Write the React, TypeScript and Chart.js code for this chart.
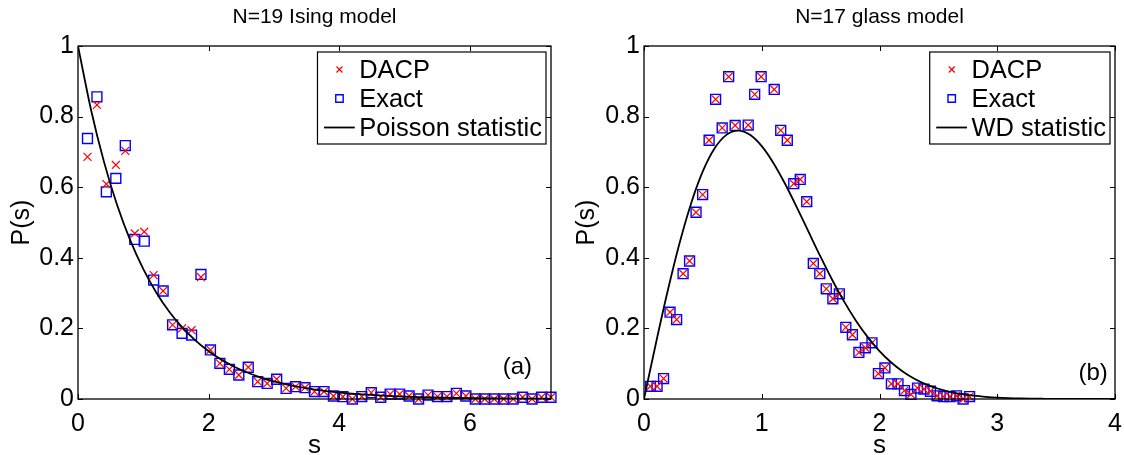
import React, { useEffect, useRef } from "react";
import { Chart, registerables } from "chart.js";
import { drawPoint } from "chart.js/helpers";

Chart.register(...registerables);

const FONT = '"Liberation Sans", Arial, Helvetica, sans-serif';

// ---------- Left panel: N=19 Ising model ----------
const isingTitle = "N=19 Ising model";
const isingS = [
  0.145, 0.29, 0.434, 0.579, 0.724, 0.869, 1.014, 1.158, 1.303, 1.448,
  1.593, 1.738, 1.882, 2.027, 2.172, 2.317, 2.462, 2.606, 2.751, 2.896,
  3.041, 3.186, 3.33, 3.475, 3.62, 3.765, 3.91, 4.054, 4.199, 4.344,
  4.489, 4.634, 4.778, 4.923, 5.068, 5.213, 5.358, 5.502, 5.647, 5.792,
  5.937, 6.082, 6.226, 6.371, 6.516, 6.661, 6.806, 6.95, 7.095, 7.24,
];
const isingDACP = [
  0.686, 0.833, 0.609, 0.663, 0.703, 0.469, 0.474, 0.351, 0.306, 0.21,
  0.2, 0.195, 0.345, 0.139, 0.101, 0.084, 0.068, 0.09, 0.049, 0.044,
  0.056, 0.03, 0.035, 0.032, 0.021, 0.021, 0.0085, 0.0066, 0.0, 0.007,
  0.018, 0.005, 0.014, 0.014, 0.0085, 0.0, 0.011, 0.007, 0.007, 0.016,
  0.0085, 0.0, 0.0, 0.0, 0.0, 0.0, 0.005, 0.0, 0.005, 0.005,
];
const isingExact = [
  0.738, 0.856, 0.587, 0.625, 0.718, 0.452, 0.447, 0.337, 0.306, 0.21,
  0.186, 0.181, 0.353, 0.139, 0.101, 0.084, 0.068, 0.09, 0.049, 0.044,
  0.056, 0.03, 0.035, 0.032, 0.021, 0.021, 0.0085, 0.0066, 0.0, 0.007,
  0.018, 0.005, 0.014, 0.014, 0.0085, 0.0, 0.011, 0.007, 0.007, 0.016,
  0.0085, 0.0, 0.0, 0.0, 0.0, 0.0, 0.005, 0.0, 0.005, 0.005,
];
const poissonS = [
  0, 0.2, 0.4, 0.6, 0.8, 1.0, 1.2, 1.4, 1.6, 1.8, 2.0, 2.2, 2.4, 2.6, 2.8,
  3.0, 3.2, 3.4, 3.6, 3.8, 4.0, 4.4, 4.8, 5.2, 5.6, 6.0, 6.4, 6.8, 7.24,
];
const poissonP = [
  1, 0.8187, 0.6703, 0.5488, 0.4493, 0.3679, 0.3012, 0.2466, 0.2019, 0.1653,
  0.1353, 0.1108, 0.0907, 0.0743, 0.0608, 0.0498, 0.0408, 0.0334, 0.0273,
  0.0224, 0.0183, 0.0123, 0.0082, 0.0055, 0.0037, 0.0025, 0.0017, 0.0011, 0.0007,
];
const isingXTicks = [0, 2, 4, 6];

// ---------- Right panel: N=17 glass model ----------
const glassTitle = "N=17 glass model";
const glassS = [
  0.055, 0.111, 0.166, 0.221, 0.277, 0.332, 0.387, 0.442, 0.498, 0.553,
  0.608, 0.664, 0.719, 0.774, 0.885, 0.94, 0.995, 1.106, 1.161, 1.217,
  1.272, 1.327, 1.382, 1.438, 1.493, 1.548, 1.604, 1.659, 1.714, 1.77,
  1.825, 1.88, 1.936, 1.991, 2.046, 2.101, 2.157, 2.212, 2.267, 2.323,
  2.378, 2.433, 2.489, 2.544, 2.599, 2.654, 2.71, 2.765,
];
const glassDACP = [
  0.036, 0.036, 0.058, 0.246, 0.225, 0.355, 0.391, 0.529, 0.579, 0.733,
  0.849, 0.768, 0.913, 0.775, 0.776, 0.863, 0.913, 0.877, 0.761, 0.733,
  0.61, 0.622, 0.559, 0.384, 0.355, 0.312, 0.284, 0.298, 0.203, 0.182,
  0.132, 0.145, 0.159, 0.072, 0.088, 0.043, 0.043, 0.024, 0.013, 0.031,
  0.028, 0.022, 0.009, 0.007, 0.007, 0.009, 0.0, 0.007,
];
const glassExact = [
  0.036, 0.036, 0.058, 0.246, 0.225, 0.355, 0.391, 0.529, 0.579, 0.733,
  0.849, 0.768, 0.913, 0.775, 0.776, 0.863, 0.913, 0.877, 0.761, 0.733,
  0.61, 0.622, 0.559, 0.384, 0.355, 0.312, 0.284, 0.298, 0.203, 0.182,
  0.132, 0.145, 0.159, 0.072, 0.088, 0.043, 0.043, 0.024, 0.013, 0.031,
  0.028, 0.022, 0.009, 0.007, 0.007, 0.009, 0.0, 0.007,
];
const wdS = [
  0, 0.1, 0.2, 0.3, 0.4, 0.5, 0.6, 0.7, 0.8, 0.9, 1.0, 1.1, 1.2, 1.3, 1.4,
  1.5, 1.6, 1.7, 1.8, 1.9, 2.0, 2.1, 2.2, 2.3, 2.4, 2.5, 2.6, 2.7, 2.8, 2.9,
  3.0, 3.2, 3.4, 3.6, 3.8, 4.0,
];
const wdP = [
  0, 0.1559, 0.3044, 0.4391, 0.5541, 0.6454, 0.7103, 0.7483, 0.7601, 0.7483,
  0.7162, 0.668, 0.6083, 0.5415, 0.4718, 0.4025, 0.3365, 0.2759, 0.2219,
  0.1752, 0.1358, 0.1033, 0.0772, 0.0567, 0.0409, 0.029, 0.0202, 0.0138,
  0.0093, 0.0062, 0.004, 0.0016, 0.0006, 0.0002, 0.0001, 0.0,
];
const glassXTicks = [0, 1, 2, 3, 4];

const yTicks = [0, 0.2, 0.4, 0.6, 0.8, 1];

// ---------- plugins ----------
const framePlugin = {
  id: "frame",
  afterDatasetsDraw(chart: any) {
    const { ctx, chartArea: a, scales } = chart;
    ctx.save();
    ctx.strokeStyle = "#000";
    ctx.lineWidth = 1.3;
    ctx.strokeRect(a.left, a.top, a.right - a.left, a.bottom - a.top);
    const L = 5;
    ctx.lineWidth = 1;
    ctx.beginPath();
    for (const t of scales.x.ticks) {
      const px = Math.round(scales.x.getPixelForValue(t.value)) + 0.5;
      ctx.moveTo(px, a.bottom);
      ctx.lineTo(px, a.bottom - L);
      ctx.moveTo(px, a.top);
      ctx.lineTo(px, a.top + L);
    }
    for (const t of scales.y.ticks) {
      const py = Math.round(scales.y.getPixelForValue(t.value)) + 0.5;
      ctx.moveTo(a.left, py);
      ctx.lineTo(a.left + L, py);
      ctx.moveTo(a.right, py);
      ctx.lineTo(a.right - L, py);
    }
    ctx.stroke();
    ctx.restore();
  },
};

const boxLegendPlugin = {
  id: "boxLegend",
  afterDraw(chart: any, _args: any, opts: any) {
    const { ctx, chartArea: a } = chart;
    const ds = chart.data.datasets;
    const order: number[] = opts.order;
    ctx.save();
    ctx.font = `${opts.fontSize}px ${FONT}`;
    const widths = order.map((i) => ctx.measureText(ds[i].label).width);
    const w = opts.textOffset + Math.max(...widths) + opts.padRight;
    const h = opts.height;
    const x0 = a.right - opts.marginRight - w;
    const y0 = a.top + opts.marginTop;
    ctx.fillStyle = "#fff";
    ctx.fillRect(x0, y0, w, h);
    ctx.strokeStyle = "#000";
    ctx.lineWidth = 1.2;
    ctx.strokeRect(x0, y0, w, h);
    order.forEach((i, row) => {
      const d = ds[i];
      const cy = y0 + opts.firstRow + row * opts.rowGap;
      if (d.showLine) {
        ctx.strokeStyle = d.borderColor;
        ctx.lineWidth = d.borderWidth;
        ctx.beginPath();
        ctx.moveTo(x0 + opts.lineStart, cy);
        ctx.lineTo(x0 + opts.lineEnd, cy);
        ctx.stroke();
      } else {
        ctx.strokeStyle = d.borderColor;
        ctx.fillStyle = "rgba(0,0,0,0)";
        ctx.lineWidth = d.borderWidth;
        drawPoint(ctx, {
          pointStyle: d.pointStyle,
          radius: d.pointRadius * 0.75,
          borderWidth: d.borderWidth,
          rotation: 0,
        } as any, x0 + opts.markerX, cy);
      }
      ctx.fillStyle = "#000";
      ctx.textAlign = "left";
      ctx.textBaseline = "middle";
      ctx.font = `${opts.fontSize}px ${FONT}`;
      ctx.fillText(d.label, x0 + opts.textOffset, cy + 1);
    });
    ctx.restore();
  },
};

const panelLabelPlugin = {
  id: "panelLabel",
  afterDraw(chart: any, _args: any, opts: any) {
    const { ctx, scales } = chart;
    ctx.save();
    ctx.fillStyle = "#000";
    ctx.font = `${opts.fontSize}px ${FONT}`;
    ctx.textAlign = "left";
    ctx.textBaseline = "middle";
    ctx.fillText(opts.text, scales.x.getPixelForValue(opts.x), scales.y.getPixelForValue(opts.y));
    ctx.restore();
  },
};

type PanelProps = {
  title: string;
  curveLabel: string;
  xs: number[];
  dacp: number[];
  exact: number[];
  curveX: number[];
  curveY: number[];
  xMax: number;
  xTicks: number[];
  yAxisWidth: number;
  rightPad: number;
  yTitlePad: number;
  label: string;
  labelX: number;
  labelY: number;
};

function Panel(p: PanelProps) {
  const ref = useRef<HTMLCanvasElement | null>(null);
  useEffect(() => {
    if (!ref.current) return;
    const tickFont = { family: FONT, size: 25 };
    const chart = new Chart(ref.current, {
      type: "scatter",
      data: {
        datasets: [
          {
            label: "DACP",
            data: p.xs.map((x, i) => ({ x, y: p.dacp[i] })),
            showLine: false,
            pointStyle: "crossRot",
            pointRadius: 5.6,
            borderColor: "#ff0000",
            backgroundColor: "rgba(0,0,0,0)",
            borderWidth: 1.2,
            order: 1,
            clip: false,
          } as any,
          {
            label: "Exact",
            data: p.xs.map((x, i) => ({ x, y: p.exact[i] })),
            showLine: false,
            pointStyle: "rect",
            pointRadius: 7,
            borderColor: "#0000ff",
            backgroundColor: "rgba(0,0,0,0)",
            borderWidth: 1.4,
            order: 2,
            clip: false,
          } as any,
          {
            label: p.curveLabel,
            data: p.curveX.map((x, i) => ({ x, y: p.curveY[i] })),
            showLine: true,
            pointRadius: 0,
            borderColor: "#000000",
            backgroundColor: "#000000",
            borderWidth: 1.8,
            cubicInterpolationMode: "monotone",
            order: 0,
          } as any,
        ],
      },
      options: {
        responsive: false,
        maintainAspectRatio: false,
        animation: false,
        events: [],
        layout: { padding: { left: 0, right: p.rightPad, top: 0, bottom: 0 } },
        scales: {
          x: {
            type: "linear",
            min: 0,
            max: p.xMax,
            grid: { display: false, drawTicks: false },
            border: { display: false },
            ticks: {
              font: tickFont,
              color: "#000",
              padding: 10,
              maxRotation: 0,
              autoSkip: false,
              includeBounds: false,
              callback: (v: any) => String(v),
            },
            afterBuildTicks: (s: any) => {
              s.ticks = p.xTicks.map((v) => ({ value: v }));
            },
            afterFit: (s: any) => {
              s.height = 56;
              s.paddingLeft = 0;
              s.paddingRight = 0;
            },
            title: {
              display: true,
              text: "s",
              color: "#000",
              font: { family: FONT, size: 26, lineHeight: 1 },
              padding: { top: 0, bottom: -4 },
            },
          },
          y: {
            type: "linear",
            min: 0,
            max: 1,
            grid: { display: false, drawTicks: false },
            border: { display: false },
            ticks: {
              font: tickFont,
              color: "#000",
              padding: 4,
              autoSkip: false,
              callback: (v: any) => String(v),
            },
            afterBuildTicks: (s: any) => {
              s.ticks = yTicks.map((v) => ({ value: v }));
            },
            afterFit: (s: any) => {
              s.width = p.yAxisWidth;
            },
            title: {
              display: true,
              text: "P(s)",
              color: "#000",
              font: { family: FONT, size: 25 },
              padding: { top: p.yTitlePad, bottom: 0 },
            },
          },
        },
        plugins: {
          legend: { display: false },
          tooltip: { enabled: false },
          title: {
            display: true,
            fullSize: false,
            text: p.title,
            color: "#000",
            font: { family: FONT, size: 21, weight: "normal", lineHeight: 1.2 },
            padding: { top: 5, bottom: 15.8 },
          },
          boxLegend: {
            order: [0, 1, 2],
            fontSize: 25.5,
            textOffset: 41.7,
            padRight: 4,
            height: 92,
            marginRight: 5,
            marginTop: 6,
            firstRow: 17.5,
            rowGap: 29,
            markerX: 22,
            lineStart: 6.5,
            lineEnd: 37.3,
          },
          panelLabel: { text: p.label, x: p.labelX, y: p.labelY, fontSize: 24 },
        } as any,
      },
      plugins: [framePlugin, boxLegendPlugin, panelLabelPlugin],
    });
    return () => chart.destroy();
  }, []);
  return <canvas ref={ref} width={562} height={455} style={{ display: "block", width: 562, height: 455 }} />;
}

export default function App() {
  return (
    <div
      style={{
        position: "absolute",
        left: 0,
        top: 0,
        width: 1124,
        height: 455,
        background: "#fff",
        display: "flex",
        flexDirection: "row",
      }}
    >
      <Panel
        title={isingTitle}
        curveLabel="Poisson statistic"
        xs={isingS}
        dacp={isingDACP}
        exact={isingExact}
        curveX={poissonS}
        curveY={poissonP}
        xMax={7.24}
        xTicks={isingXTicks}
        yAxisWidth={78}
        rightPad={11}
        yTitlePad={7}
        label="(a)"
        labelX={6.5}
        labelY={0.091}
      />
      <Panel
        title={glassTitle}
        curveLabel="WD statistic"
        xs={glassS}
        dacp={glassDACP}
        exact={glassExact}
        curveX={wdS}
        curveY={wdP}
        xMax={4}
        xTicks={glassXTicks}
        yAxisWidth={82}
        rightPad={9}
        yTitlePad={10}
        label="(b)"
        labelX={3.69}
        labelY={0.072}
      />
    </div>
  );
}
